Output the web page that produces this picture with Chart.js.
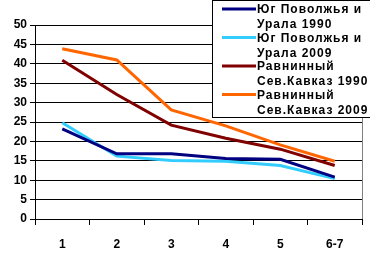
<!DOCTYPE html>
<html>
<head>
<meta charset="utf-8">
<script src="https://cdn.jsdelivr.net/npm/chart.js@4"></script>
<style>
  html, body { margin: 0; padding: 0; background: #fff; }
  #wrap { width: 370px; height: 255px; position: relative; }
</style>
</head>
<body>
<div id="wrap"><canvas id="chart" width="370" height="255"></canvas></div>
<script>
// data
const categories = ['1', '2', '3', '4', '5', '6-7'];
const yugPovolzhye1990 = [23.2, 16.8, 16.8, 15.6, 15.4, 10.8];
const yugPovolzhye2009 = [24.8, 16.2, 15.1, 14.9, 13.8, 10.4];
const ravnSevKavkaz1990 = [40.9, 32.1, 24.2, 20.8, 18.0, 13.8];
const ravnSevKavkaz2009 = [43.9, 41.0, 28.1, 24.0, 19.1, 14.9];
const seriesLabels = [
    ['Юг Поволжья и', 'Урала 1990'],
    ['Юг Поволжья и', 'Урала 2009'],
    ['Равнинный', 'Сев.Кавказ 1990'],
    ['Равнинный', 'Сев.Кавказ 2009']
];
const seriesColors = ['#000080', '#33CCFF', '#800000', '#FF6600'];
const yTicks = [0, 5, 10, 15, 20, 25, 30, 35, 40, 45, 50];

const FONT = 'bold 12px "Liberation Sans", Arial, sans-serif';

// right border of plot + boxed legend on top
const boxLegend = {
    id: 'boxLegend',
    afterDraw(chart) {
        const ctx = chart.ctx;
        const a = chart.chartArea;
        ctx.save();
        ctx.strokeStyle = '#808080';
        ctx.lineWidth = 1;
        ctx.beginPath();
        ctx.moveTo(Math.round(a.right) + 0.5, a.top);
        ctx.lineTo(Math.round(a.right) + 0.5, a.bottom);
        ctx.stroke();

        ctx.fillStyle = '#fff';
        ctx.fillRect(212, 0, 160, 118);
        ctx.strokeStyle = '#000';
        ctx.strokeRect(212.5, 0.5, 160, 117);

        ctx.font = FONT;
        ctx.textBaseline = 'middle';
        ctx.textAlign = 'left';
        chart.data.datasets.forEach((ds, i) => {
            const y = 9 + i * 28.5;
            ctx.strokeStyle = ds.borderColor;
            ctx.lineWidth = 3;
            ctx.beginPath();
            ctx.moveTo(222, y);
            ctx.lineTo(256, y);
            ctx.stroke();
            ctx.fillStyle = '#000';
            ctx.letterSpacing = '1px';
            ctx.fillText(ds.label[0], 257, y + 1);
            ctx.fillText(ds.label[1], 257, y + 16);
        });
        ctx.restore();
    }
};

const datasets = [yugPovolzhye1990, yugPovolzhye2009, ravnSevKavkaz1990, ravnSevKavkaz2009].map((vals, i) => ({
    label: seriesLabels[i],
    data: vals,
    borderColor: seriesColors[i],
    backgroundColor: seriesColors[i],
    borderWidth: 3,
    pointRadius: 0,
    tension: 0,
    fill: false
}));

new Chart(document.getElementById('chart'), {
    type: 'line',
    data: { labels: categories, datasets },
    options: {
        responsive: false,
        animation: false,
        layout: { padding: { top: 25, right: 8, left: 0, bottom: 0 } },
        plugins: { legend: { display: false }, tooltip: { enabled: false } },
        scales: {
            x: {
                offset: true,
                grid: { display: true, offset: true, drawOnChartArea: false, drawTicks: true, tickLength: 6, color: '#000' },
                border: { color: '#000' },
                ticks: { color: '#000', font: { family: '"Liberation Sans", Arial, sans-serif', size: 12, weight: 'bold' }, padding: 12, maxRotation: 0 },
                afterFit(scale) { scale.height = 36; }
            },
            y: {
                min: 0,
                max: 50,
                afterBuildTicks(scale) { scale.ticks = yTicks.map(v => ({ value: v })); },
                grid: { color: '#000', tickLength: 5 },
                border: { color: '#000' },
                ticks: { color: '#000', font: { family: '"Liberation Sans", Arial, sans-serif', size: 12, weight: 'bold' }, padding: 3 },
                afterFit(scale) { scale.width = 35; }
            }
        }
    },
    plugins: [boxLegend]
});
</script>
</body>
</html>
